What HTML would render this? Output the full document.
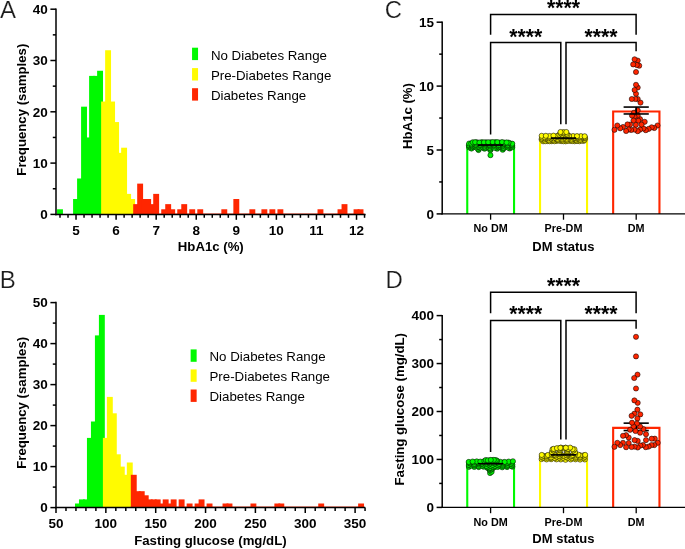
<!DOCTYPE html>
<html lang="en"><head><meta charset="utf-8"><title>Figure: HbA1c and fasting glucose distributions by diabetes status</title>
<style>
html,body{margin:0;padding:0;background:#fff;}
body{width:685px;height:549px;overflow:hidden;}
svg{display:block;font-family:"Liberation Sans", sans-serif;}
</style></head><body>
<svg width="685" height="549" viewBox="0 0 685 549">
<rect width="685" height="549" fill="#fff"/>
<text x="0" y="18" font-size="24" font-weight="normal" fill="#1c1c1c" stroke="#fff" stroke-width="0.2">A</text>
<g>
<rect x="57.05" y="209.27" width="5.9" height="5.13" fill="#00f900"/>
<rect x="73.08" y="199.01" width="5.9" height="15.39" fill="#00f900"/>
<rect x="77.09" y="178.49" width="5.9" height="35.91" fill="#00f900"/>
<rect x="81.09" y="106.67" width="5.9" height="107.73" fill="#00f900"/>
<rect x="85.1" y="137.45" width="5.9" height="76.95" fill="#00f900"/>
<rect x="89.11" y="75.89" width="5.9" height="138.51" fill="#00f900"/>
<rect x="93.11" y="75.89" width="5.9" height="138.51" fill="#00f900"/>
<rect x="97.12" y="70.76" width="5.9" height="143.64" fill="#00f900"/>
<rect x="101.13" y="101.54" width="5.9" height="112.86" fill="#fffb00"/>
<rect x="105.14" y="50.24" width="5.9" height="164.16" fill="#fffb00"/>
<rect x="109.14" y="101.54" width="5.9" height="112.86" fill="#fffb00"/>
<rect x="113.15" y="122.06" width="5.9" height="92.34" fill="#fffb00"/>
<rect x="117.16" y="152.84" width="5.9" height="61.56" fill="#fffb00"/>
<rect x="121.16" y="147.71" width="5.9" height="66.69" fill="#fffb00"/>
<rect x="125.17" y="193.88" width="5.9" height="20.52" fill="#fffb00"/>
<rect x="129.18" y="199.01" width="5.9" height="15.39" fill="#fffb00"/>
<rect x="133.19" y="204.14" width="5.9" height="10.26" fill="#ff2600"/>
<rect x="137.19" y="183.62" width="5.9" height="30.78" fill="#ff2600"/>
<rect x="141.2" y="199.01" width="5.9" height="15.39" fill="#ff2600"/>
<rect x="145.21" y="199.01" width="5.9" height="15.39" fill="#ff2600"/>
<rect x="149.21" y="204.14" width="5.9" height="10.26" fill="#ff2600"/>
<rect x="153.22" y="193.88" width="5.9" height="20.52" fill="#ff2600"/>
<rect x="161.23" y="209.27" width="5.9" height="5.13" fill="#ff2600"/>
<rect x="165.24" y="204.14" width="5.9" height="10.26" fill="#ff2600"/>
<rect x="169.25" y="209.27" width="5.9" height="5.13" fill="#ff2600"/>
<rect x="177.26" y="209.27" width="5.9" height="5.13" fill="#ff2600"/>
<rect x="181.27" y="204.14" width="5.9" height="10.26" fill="#ff2600"/>
<rect x="189.28" y="209.27" width="5.9" height="5.13" fill="#ff2600"/>
<rect x="197.3" y="209.27" width="5.9" height="5.13" fill="#ff2600"/>
<rect x="221.34" y="209.27" width="5.9" height="5.13" fill="#ff2600"/>
<rect x="233.36" y="199.01" width="5.9" height="15.39" fill="#ff2600"/>
<rect x="249.39" y="209.27" width="5.9" height="5.13" fill="#ff2600"/>
<rect x="261.41" y="209.27" width="5.9" height="5.13" fill="#ff2600"/>
<rect x="269.42" y="209.27" width="5.9" height="5.13" fill="#ff2600"/>
<rect x="277.44" y="209.27" width="5.9" height="5.13" fill="#ff2600"/>
<rect x="317.51" y="209.27" width="5.9" height="5.13" fill="#ff2600"/>
<rect x="337.54" y="209.27" width="5.9" height="5.13" fill="#ff2600"/>
<rect x="341.55" y="204.14" width="5.9" height="10.26" fill="#ff2600"/>
<rect x="353.57" y="209.27" width="5.9" height="5.13" fill="#ff2600"/>
<rect x="357.58" y="209.27" width="5.9" height="5.13" fill="#ff2600"/>
</g>
<rect x="133.19" y="213.25" width="231.42" height="0.6" fill="#ff2600" opacity="0.75"/>
<line x1="56" y1="8.45" x2="56" y2="215.15" stroke="#000" stroke-width="1.5"/>
<line x1="55.25" y1="214.4" x2="365.6" y2="214.4" stroke="#000" stroke-width="1.5"/>
<line x1="50.4" y1="214.4" x2="56" y2="214.4" stroke="#000" stroke-width="1.5"/>
<text x="47.8" y="219.15" font-size="13.5" text-anchor="end" font-weight="bold">0</text>
<line x1="50.4" y1="163.1" x2="56" y2="163.1" stroke="#000" stroke-width="1.5"/>
<text x="47.8" y="167.85" font-size="13.5" text-anchor="end" font-weight="bold">10</text>
<line x1="50.4" y1="111.8" x2="56" y2="111.8" stroke="#000" stroke-width="1.5"/>
<text x="47.8" y="116.55" font-size="13.5" text-anchor="end" font-weight="bold">20</text>
<line x1="50.4" y1="60.5" x2="56" y2="60.5" stroke="#000" stroke-width="1.5"/>
<text x="47.8" y="65.25" font-size="13.5" text-anchor="end" font-weight="bold">30</text>
<line x1="50.4" y1="9.2" x2="56" y2="9.2" stroke="#000" stroke-width="1.5"/>
<text x="47.8" y="13.95" font-size="13.5" text-anchor="end" font-weight="bold">40</text>
<line x1="52.8" y1="188.75" x2="56" y2="188.75" stroke="#000" stroke-width="1.5"/>
<line x1="52.8" y1="137.45" x2="56" y2="137.45" stroke="#000" stroke-width="1.5"/>
<line x1="52.8" y1="86.15" x2="56" y2="86.15" stroke="#000" stroke-width="1.5"/>
<line x1="52.8" y1="34.85" x2="56" y2="34.85" stroke="#000" stroke-width="1.5"/>
<line x1="76.03" y1="214.4" x2="76.03" y2="219.8" stroke="#000" stroke-width="1.5"/>
<text x="76.03" y="234.9" font-size="13.5" text-anchor="middle" font-weight="bold">5</text>
<line x1="116.1" y1="214.4" x2="116.1" y2="219.8" stroke="#000" stroke-width="1.5"/>
<text x="116.1" y="234.9" font-size="13.5" text-anchor="middle" font-weight="bold">6</text>
<line x1="156.17" y1="214.4" x2="156.17" y2="219.8" stroke="#000" stroke-width="1.5"/>
<text x="156.17" y="234.9" font-size="13.5" text-anchor="middle" font-weight="bold">7</text>
<line x1="196.24" y1="214.4" x2="196.24" y2="219.8" stroke="#000" stroke-width="1.5"/>
<text x="196.24" y="234.9" font-size="13.5" text-anchor="middle" font-weight="bold">8</text>
<line x1="236.31" y1="214.4" x2="236.31" y2="219.8" stroke="#000" stroke-width="1.5"/>
<text x="236.31" y="234.9" font-size="13.5" text-anchor="middle" font-weight="bold">9</text>
<line x1="276.38" y1="214.4" x2="276.38" y2="219.8" stroke="#000" stroke-width="1.5"/>
<text x="276.38" y="234.9" font-size="13.5" text-anchor="middle" font-weight="bold">10</text>
<line x1="316.45" y1="214.4" x2="316.45" y2="219.8" stroke="#000" stroke-width="1.5"/>
<text x="316.45" y="234.9" font-size="13.5" text-anchor="middle" font-weight="bold">11</text>
<line x1="356.52" y1="214.4" x2="356.52" y2="219.8" stroke="#000" stroke-width="1.5"/>
<text x="356.52" y="234.9" font-size="13.5" text-anchor="middle" font-weight="bold">12</text>
<line x1="60" y1="214.4" x2="60" y2="217.8" stroke="#000" stroke-width="1.5"/>
<line x1="68.02" y1="214.4" x2="68.02" y2="217.8" stroke="#000" stroke-width="1.5"/>
<line x1="84.04" y1="214.4" x2="84.04" y2="217.8" stroke="#000" stroke-width="1.5"/>
<line x1="92.06" y1="214.4" x2="92.06" y2="217.8" stroke="#000" stroke-width="1.5"/>
<line x1="100.07" y1="214.4" x2="100.07" y2="217.8" stroke="#000" stroke-width="1.5"/>
<line x1="108.09" y1="214.4" x2="108.09" y2="217.8" stroke="#000" stroke-width="1.5"/>
<line x1="124.11" y1="214.4" x2="124.11" y2="217.8" stroke="#000" stroke-width="1.5"/>
<line x1="132.13" y1="214.4" x2="132.13" y2="217.8" stroke="#000" stroke-width="1.5"/>
<line x1="140.14" y1="214.4" x2="140.14" y2="217.8" stroke="#000" stroke-width="1.5"/>
<line x1="148.16" y1="214.4" x2="148.16" y2="217.8" stroke="#000" stroke-width="1.5"/>
<line x1="164.18" y1="214.4" x2="164.18" y2="217.8" stroke="#000" stroke-width="1.5"/>
<line x1="172.2" y1="214.4" x2="172.2" y2="217.8" stroke="#000" stroke-width="1.5"/>
<line x1="180.21" y1="214.4" x2="180.21" y2="217.8" stroke="#000" stroke-width="1.5"/>
<line x1="188.23" y1="214.4" x2="188.23" y2="217.8" stroke="#000" stroke-width="1.5"/>
<line x1="204.25" y1="214.4" x2="204.25" y2="217.8" stroke="#000" stroke-width="1.5"/>
<line x1="212.27" y1="214.4" x2="212.27" y2="217.8" stroke="#000" stroke-width="1.5"/>
<line x1="220.28" y1="214.4" x2="220.28" y2="217.8" stroke="#000" stroke-width="1.5"/>
<line x1="228.3" y1="214.4" x2="228.3" y2="217.8" stroke="#000" stroke-width="1.5"/>
<line x1="244.32" y1="214.4" x2="244.32" y2="217.8" stroke="#000" stroke-width="1.5"/>
<line x1="252.34" y1="214.4" x2="252.34" y2="217.8" stroke="#000" stroke-width="1.5"/>
<line x1="260.35" y1="214.4" x2="260.35" y2="217.8" stroke="#000" stroke-width="1.5"/>
<line x1="268.37" y1="214.4" x2="268.37" y2="217.8" stroke="#000" stroke-width="1.5"/>
<line x1="284.39" y1="214.4" x2="284.39" y2="217.8" stroke="#000" stroke-width="1.5"/>
<line x1="292.41" y1="214.4" x2="292.41" y2="217.8" stroke="#000" stroke-width="1.5"/>
<line x1="300.42" y1="214.4" x2="300.42" y2="217.8" stroke="#000" stroke-width="1.5"/>
<line x1="308.44" y1="214.4" x2="308.44" y2="217.8" stroke="#000" stroke-width="1.5"/>
<line x1="324.46" y1="214.4" x2="324.46" y2="217.8" stroke="#000" stroke-width="1.5"/>
<line x1="332.48" y1="214.4" x2="332.48" y2="217.8" stroke="#000" stroke-width="1.5"/>
<line x1="340.49" y1="214.4" x2="340.49" y2="217.8" stroke="#000" stroke-width="1.5"/>
<line x1="348.51" y1="214.4" x2="348.51" y2="217.8" stroke="#000" stroke-width="1.5"/>
<line x1="364.53" y1="214.4" x2="364.53" y2="217.8" stroke="#000" stroke-width="1.5"/>
<text x="210.8" y="251.3" font-size="13.2" text-anchor="middle" font-weight="bold">HbA1c (%)</text>
<text transform="translate(26,109.7) rotate(-90)" font-size="13.2" text-anchor="middle" font-weight="bold">Frequency (samples)</text>
<rect x="192.05" y="47.7" width="6" height="12.4" fill="#00f900"/>
<text x="210.9" y="59.6" font-size="13.3" text-anchor="start" font-weight="normal">No Diabetes Range</text>
<rect x="192.05" y="68.1" width="6" height="12.4" fill="#fffb00"/>
<text x="210.9" y="80" font-size="13.3" text-anchor="start" font-weight="normal">Pre-Diabetes Range</text>
<rect x="192.05" y="88.2" width="6" height="12.4" fill="#ff2600"/>
<text x="210.9" y="100.1" font-size="13.3" text-anchor="start" font-weight="normal">Diabetes Range</text>
<text x="-0.15" y="288.1" font-size="24" font-weight="normal" fill="#1c1c1c" stroke="#fff" stroke-width="0.2">B</text>
<g>
<rect x="74.98" y="503.5" width="5.9" height="4.1" fill="#00f900"/>
<rect x="78.97" y="499.4" width="5.9" height="8.2" fill="#00f900"/>
<rect x="82.96" y="499.4" width="5.9" height="8.2" fill="#00f900"/>
<rect x="86.95" y="437.9" width="5.9" height="69.7" fill="#00f900"/>
<rect x="90.94" y="421.5" width="5.9" height="86.1" fill="#00f900"/>
<rect x="94.92" y="335.4" width="5.9" height="172.2" fill="#00f900"/>
<rect x="98.91" y="314.9" width="5.9" height="192.7" fill="#00f900"/>
<rect x="102.9" y="437.9" width="5.9" height="69.7" fill="#fffb00"/>
<rect x="106.89" y="396.9" width="5.9" height="110.7" fill="#fffb00"/>
<rect x="110.88" y="413.3" width="5.9" height="94.3" fill="#fffb00"/>
<rect x="114.86" y="454.3" width="5.9" height="53.3" fill="#fffb00"/>
<rect x="118.85" y="466.6" width="5.9" height="41" fill="#fffb00"/>
<rect x="122.84" y="474.8" width="5.9" height="32.8" fill="#fffb00"/>
<rect x="126.83" y="462.5" width="5.9" height="45.1" fill="#fffb00"/>
<rect x="130.82" y="474.8" width="5.9" height="32.8" fill="#ff2600"/>
<rect x="134.8" y="491.2" width="5.9" height="16.4" fill="#ff2600"/>
<rect x="138.79" y="491.2" width="5.9" height="16.4" fill="#ff2600"/>
<rect x="142.78" y="495.3" width="5.9" height="12.3" fill="#ff2600"/>
<rect x="146.77" y="499.4" width="5.9" height="8.2" fill="#ff2600"/>
<rect x="150.76" y="499.4" width="5.9" height="8.2" fill="#ff2600"/>
<rect x="154.74" y="499.4" width="5.9" height="8.2" fill="#ff2600"/>
<rect x="158.73" y="503.5" width="5.9" height="4.1" fill="#ff2600"/>
<rect x="162.72" y="499.4" width="5.9" height="8.2" fill="#ff2600"/>
<rect x="166.71" y="503.5" width="5.9" height="4.1" fill="#ff2600"/>
<rect x="170.7" y="499.4" width="5.9" height="8.2" fill="#ff2600"/>
<rect x="178.67" y="499.4" width="5.9" height="8.2" fill="#ff2600"/>
<rect x="186.65" y="503.5" width="5.9" height="4.1" fill="#ff2600"/>
<rect x="194.62" y="503.5" width="5.9" height="4.1" fill="#ff2600"/>
<rect x="198.61" y="499.4" width="5.9" height="8.2" fill="#ff2600"/>
<rect x="206.59" y="503.5" width="5.9" height="4.1" fill="#ff2600"/>
<rect x="222.54" y="503.5" width="5.9" height="4.1" fill="#ff2600"/>
<rect x="226.53" y="503.5" width="5.9" height="4.1" fill="#ff2600"/>
<rect x="250.46" y="503.5" width="5.9" height="4.1" fill="#ff2600"/>
<rect x="274.38" y="503.5" width="5.9" height="4.1" fill="#ff2600"/>
<rect x="278.37" y="503.5" width="5.9" height="4.1" fill="#ff2600"/>
<rect x="318.25" y="503.5" width="5.9" height="4.1" fill="#ff2600"/>
<rect x="358.13" y="503.5" width="5.9" height="4.1" fill="#ff2600"/>
</g>
<rect x="130.82" y="506.45" width="233.38" height="0.6" fill="#ff2600" opacity="0.75"/>
<line x1="56" y1="301.85" x2="56" y2="508.35" stroke="#000" stroke-width="1.5"/>
<line x1="55.25" y1="507.6" x2="365.2" y2="507.6" stroke="#000" stroke-width="1.5"/>
<line x1="50.4" y1="507.6" x2="56" y2="507.6" stroke="#000" stroke-width="1.5"/>
<text x="47.8" y="512.35" font-size="13.5" text-anchor="end" font-weight="bold">0</text>
<line x1="50.4" y1="466.6" x2="56" y2="466.6" stroke="#000" stroke-width="1.5"/>
<text x="47.8" y="471.35" font-size="13.5" text-anchor="end" font-weight="bold">10</text>
<line x1="50.4" y1="425.6" x2="56" y2="425.6" stroke="#000" stroke-width="1.5"/>
<text x="47.8" y="430.35" font-size="13.5" text-anchor="end" font-weight="bold">20</text>
<line x1="50.4" y1="384.6" x2="56" y2="384.6" stroke="#000" stroke-width="1.5"/>
<text x="47.8" y="389.35" font-size="13.5" text-anchor="end" font-weight="bold">30</text>
<line x1="50.4" y1="343.6" x2="56" y2="343.6" stroke="#000" stroke-width="1.5"/>
<text x="47.8" y="348.35" font-size="13.5" text-anchor="end" font-weight="bold">40</text>
<line x1="50.4" y1="302.6" x2="56" y2="302.6" stroke="#000" stroke-width="1.5"/>
<text x="47.8" y="307.35" font-size="13.5" text-anchor="end" font-weight="bold">50</text>
<line x1="52.8" y1="487.1" x2="56" y2="487.1" stroke="#000" stroke-width="1.5"/>
<line x1="52.8" y1="446.1" x2="56" y2="446.1" stroke="#000" stroke-width="1.5"/>
<line x1="52.8" y1="405.1" x2="56" y2="405.1" stroke="#000" stroke-width="1.5"/>
<line x1="52.8" y1="364.1" x2="56" y2="364.1" stroke="#000" stroke-width="1.5"/>
<line x1="52.8" y1="323.1" x2="56" y2="323.1" stroke="#000" stroke-width="1.5"/>
<line x1="56" y1="507.6" x2="56" y2="513" stroke="#000" stroke-width="1.5"/>
<text x="56" y="527.6" font-size="13.5" text-anchor="middle" font-weight="bold">50</text>
<line x1="105.85" y1="507.6" x2="105.85" y2="513" stroke="#000" stroke-width="1.5"/>
<text x="105.85" y="527.6" font-size="13.5" text-anchor="middle" font-weight="bold">100</text>
<line x1="155.7" y1="507.6" x2="155.7" y2="513" stroke="#000" stroke-width="1.5"/>
<text x="155.7" y="527.6" font-size="13.5" text-anchor="middle" font-weight="bold">150</text>
<line x1="205.55" y1="507.6" x2="205.55" y2="513" stroke="#000" stroke-width="1.5"/>
<text x="205.55" y="527.6" font-size="13.5" text-anchor="middle" font-weight="bold">200</text>
<line x1="255.4" y1="507.6" x2="255.4" y2="513" stroke="#000" stroke-width="1.5"/>
<text x="255.4" y="527.6" font-size="13.5" text-anchor="middle" font-weight="bold">250</text>
<line x1="305.25" y1="507.6" x2="305.25" y2="513" stroke="#000" stroke-width="1.5"/>
<text x="305.25" y="527.6" font-size="13.5" text-anchor="middle" font-weight="bold">300</text>
<line x1="355.1" y1="507.6" x2="355.1" y2="513" stroke="#000" stroke-width="1.5"/>
<text x="355.1" y="527.6" font-size="13.5" text-anchor="middle" font-weight="bold">350</text>
<line x1="65.97" y1="507.6" x2="65.97" y2="511" stroke="#000" stroke-width="1.5"/>
<line x1="75.94" y1="507.6" x2="75.94" y2="511" stroke="#000" stroke-width="1.5"/>
<line x1="85.91" y1="507.6" x2="85.91" y2="511" stroke="#000" stroke-width="1.5"/>
<line x1="95.88" y1="507.6" x2="95.88" y2="511" stroke="#000" stroke-width="1.5"/>
<line x1="115.82" y1="507.6" x2="115.82" y2="511" stroke="#000" stroke-width="1.5"/>
<line x1="125.79" y1="507.6" x2="125.79" y2="511" stroke="#000" stroke-width="1.5"/>
<line x1="135.76" y1="507.6" x2="135.76" y2="511" stroke="#000" stroke-width="1.5"/>
<line x1="145.73" y1="507.6" x2="145.73" y2="511" stroke="#000" stroke-width="1.5"/>
<line x1="165.67" y1="507.6" x2="165.67" y2="511" stroke="#000" stroke-width="1.5"/>
<line x1="175.64" y1="507.6" x2="175.64" y2="511" stroke="#000" stroke-width="1.5"/>
<line x1="185.61" y1="507.6" x2="185.61" y2="511" stroke="#000" stroke-width="1.5"/>
<line x1="195.58" y1="507.6" x2="195.58" y2="511" stroke="#000" stroke-width="1.5"/>
<line x1="215.52" y1="507.6" x2="215.52" y2="511" stroke="#000" stroke-width="1.5"/>
<line x1="225.49" y1="507.6" x2="225.49" y2="511" stroke="#000" stroke-width="1.5"/>
<line x1="235.46" y1="507.6" x2="235.46" y2="511" stroke="#000" stroke-width="1.5"/>
<line x1="245.43" y1="507.6" x2="245.43" y2="511" stroke="#000" stroke-width="1.5"/>
<line x1="265.37" y1="507.6" x2="265.37" y2="511" stroke="#000" stroke-width="1.5"/>
<line x1="275.34" y1="507.6" x2="275.34" y2="511" stroke="#000" stroke-width="1.5"/>
<line x1="285.31" y1="507.6" x2="285.31" y2="511" stroke="#000" stroke-width="1.5"/>
<line x1="295.28" y1="507.6" x2="295.28" y2="511" stroke="#000" stroke-width="1.5"/>
<line x1="315.22" y1="507.6" x2="315.22" y2="511" stroke="#000" stroke-width="1.5"/>
<line x1="325.19" y1="507.6" x2="325.19" y2="511" stroke="#000" stroke-width="1.5"/>
<line x1="335.16" y1="507.6" x2="335.16" y2="511" stroke="#000" stroke-width="1.5"/>
<line x1="345.13" y1="507.6" x2="345.13" y2="511" stroke="#000" stroke-width="1.5"/>
<line x1="365.07" y1="507.6" x2="365.07" y2="511" stroke="#000" stroke-width="1.5"/>
<text x="210.4" y="545.4" font-size="13.2" text-anchor="middle" font-weight="bold">Fasting glucose (mg/dL)</text>
<text transform="translate(26,402.8) rotate(-90)" font-size="13.2" text-anchor="middle" font-weight="bold">Frequency (samples)</text>
<rect x="190.65" y="349.4" width="6" height="12.4" fill="#00f900"/>
<text x="209.5" y="361.3" font-size="13.3" text-anchor="start" font-weight="normal">No Diabetes Range</text>
<rect x="190.65" y="369.4" width="6" height="12.4" fill="#fffb00"/>
<text x="209.5" y="381.3" font-size="13.3" text-anchor="start" font-weight="normal">Pre-Diabetes Range</text>
<rect x="190.65" y="389.5" width="6" height="12.4" fill="#ff2600"/>
<text x="209.5" y="401.4" font-size="13.3" text-anchor="start" font-weight="normal">Diabetes Range</text>
<text x="384.75" y="18.1" font-size="24" font-weight="normal" fill="#1c1c1c" stroke="#fff" stroke-width="0.2">C</text>
<path d="M467.25 213.9V146.09H514.05V213.9" fill="none" stroke="#00f900" stroke-width="2.1"/>
<path d="M540.05 213.9V139.18H587.05V213.9" fill="none" stroke="#fffb00" stroke-width="2.1"/>
<path d="M613.15 213.9V111.56H659.45V213.9" fill="none" stroke="#ff2600" stroke-width="2.1"/>
<line x1="442.2" y1="21.5" x2="442.2" y2="214.6" stroke="#000" stroke-width="1.5"/>
<line x1="441.5" y1="213.9" x2="685" y2="213.9" stroke="#000" stroke-width="1.4"/>
<line x1="436.6" y1="213.9" x2="442.2" y2="213.9" stroke="#000" stroke-width="1.5"/>
<text x="434" y="218.65" font-size="13.5" text-anchor="end" font-weight="bold">0</text>
<line x1="436.6" y1="150" x2="442.2" y2="150" stroke="#000" stroke-width="1.5"/>
<text x="434" y="154.75" font-size="13.5" text-anchor="end" font-weight="bold">5</text>
<line x1="436.6" y1="86.1" x2="442.2" y2="86.1" stroke="#000" stroke-width="1.5"/>
<text x="434" y="90.85" font-size="13.5" text-anchor="end" font-weight="bold">10</text>
<line x1="436.6" y1="22.2" x2="442.2" y2="22.2" stroke="#000" stroke-width="1.5"/>
<text x="434" y="26.95" font-size="13.5" text-anchor="end" font-weight="bold">15</text>
<line x1="439.2" y1="181.95" x2="442.2" y2="181.95" stroke="#000" stroke-width="1.5"/>
<line x1="439.2" y1="118.05" x2="442.2" y2="118.05" stroke="#000" stroke-width="1.5"/>
<line x1="439.2" y1="54.15" x2="442.2" y2="54.15" stroke="#000" stroke-width="1.5"/>
<line x1="490.6" y1="213.9" x2="490.6" y2="219.7" stroke="#000" stroke-width="1.3"/>
<text x="490.6" y="231.8" font-size="10.8" text-anchor="middle" font-weight="bold">No DM</text>
<line x1="563.5" y1="213.9" x2="563.5" y2="219.7" stroke="#000" stroke-width="1.3"/>
<text x="563.5" y="231.8" font-size="10.8" text-anchor="middle" font-weight="bold">Pre-DM</text>
<line x1="636.2" y1="213.9" x2="636.2" y2="219.7" stroke="#000" stroke-width="1.3"/>
<text x="636.2" y="231.8" font-size="10.8" text-anchor="middle" font-weight="bold">DM</text>
<text x="563.4" y="250.9" font-size="13" text-anchor="middle" font-weight="bold">DM status</text>
<text transform="translate(411.9,116) rotate(-90)" font-size="13.2" text-anchor="middle" font-weight="bold">HbA1c (%)</text>
<g fill="#00f900" stroke="#000" stroke-width="0.55">
<circle cx="490.44" cy="155.14" r="2.58"/>
<circle cx="478.52" cy="150.06" r="2.58"/>
<circle cx="502.68" cy="149.74" r="2.58"/>
<circle cx="490.31" cy="150.2" r="2.58"/>
<circle cx="471.46" cy="148.56" r="2.58"/>
<circle cx="484.56" cy="148.7" r="2.58"/>
<circle cx="497.14" cy="148.71" r="2.58"/>
<circle cx="509.68" cy="148.51" r="2.58"/>
<circle cx="478.01" cy="148.94" r="2.58"/>
<circle cx="490.61" cy="148.87" r="2.58"/>
<circle cx="503.37" cy="148.46" r="2.58"/>
<circle cx="469.25" cy="147.5" r="2.58"/>
<circle cx="473.51" cy="147.16" r="2.58"/>
<circle cx="478.37" cy="147.43" r="2.58"/>
<circle cx="482.81" cy="147.67" r="2.58"/>
<circle cx="487.33" cy="147.7" r="2.58"/>
<circle cx="491.67" cy="147.62" r="2.58"/>
<circle cx="496.22" cy="147.71" r="2.58"/>
<circle cx="501.01" cy="147.2" r="2.58"/>
<circle cx="505.09" cy="147.27" r="2.58"/>
<circle cx="510.12" cy="147.41" r="2.58"/>
<circle cx="471.44" cy="147.32" r="2.58"/>
<circle cx="475.89" cy="147.38" r="2.58"/>
<circle cx="480.33" cy="147.5" r="2.58"/>
<circle cx="484.99" cy="147.69" r="2.58"/>
<circle cx="489.58" cy="147.7" r="2.58"/>
<circle cx="494.21" cy="147.74" r="2.58"/>
<circle cx="498.62" cy="147.24" r="2.58"/>
<circle cx="503.26" cy="147.72" r="2.58"/>
<circle cx="507.82" cy="147.49" r="2.58"/>
<circle cx="512.23" cy="147.27" r="2.58"/>
<circle cx="469.3" cy="146.21" r="2.58"/>
<circle cx="475.11" cy="145.9" r="2.58"/>
<circle cx="481.6" cy="146.46" r="2.58"/>
<circle cx="487.28" cy="146.35" r="2.58"/>
<circle cx="493.62" cy="145.96" r="2.58"/>
<circle cx="499.69" cy="146.33" r="2.58"/>
<circle cx="506.18" cy="145.89" r="2.58"/>
<circle cx="512.17" cy="145.89" r="2.58"/>
<circle cx="472.3" cy="146.06" r="2.58"/>
<circle cx="478.54" cy="146.45" r="2.58"/>
<circle cx="484.46" cy="146.47" r="2.58"/>
<circle cx="490.49" cy="145.91" r="2.58"/>
<circle cx="496.8" cy="145.88" r="2.58"/>
<circle cx="502.7" cy="146.11" r="2.58"/>
<circle cx="509.09" cy="145.96" r="2.58"/>
<circle cx="468.83" cy="145.11" r="2.58"/>
<circle cx="473.51" cy="145.16" r="2.58"/>
<circle cx="478.39" cy="144.81" r="2.58"/>
<circle cx="482.66" cy="144.9" r="2.58"/>
<circle cx="487.29" cy="144.95" r="2.58"/>
<circle cx="491.77" cy="144.96" r="2.58"/>
<circle cx="496.52" cy="144.89" r="2.58"/>
<circle cx="500.74" cy="145.02" r="2.58"/>
<circle cx="505.15" cy="144.77" r="2.58"/>
<circle cx="510.12" cy="144.9" r="2.58"/>
<circle cx="471.39" cy="144.59" r="2.58"/>
<circle cx="475.84" cy="144.94" r="2.58"/>
<circle cx="480.13" cy="144.96" r="2.58"/>
<circle cx="485.02" cy="144.62" r="2.58"/>
<circle cx="489.54" cy="144.87" r="2.58"/>
<circle cx="494.1" cy="144.8" r="2.58"/>
<circle cx="498.65" cy="145.03" r="2.58"/>
<circle cx="502.76" cy="144.62" r="2.58"/>
<circle cx="507.68" cy="145.17" r="2.58"/>
<circle cx="511.95" cy="144.86" r="2.58"/>
<circle cx="469.16" cy="143.5" r="2.58"/>
<circle cx="473.54" cy="143.5" r="2.58"/>
<circle cx="478.07" cy="143.67" r="2.58"/>
<circle cx="482.56" cy="143.54" r="2.58"/>
<circle cx="487.37" cy="143.33" r="2.58"/>
<circle cx="491.77" cy="143.75" r="2.58"/>
<circle cx="496.14" cy="143.44" r="2.58"/>
<circle cx="500.97" cy="143.45" r="2.58"/>
<circle cx="505.12" cy="143.57" r="2.58"/>
<circle cx="509.96" cy="143.37" r="2.58"/>
<circle cx="471.26" cy="143.51" r="2.58"/>
<circle cx="476.09" cy="143.57" r="2.58"/>
<circle cx="480.63" cy="143.41" r="2.58"/>
<circle cx="484.84" cy="143.7" r="2.58"/>
<circle cx="489.7" cy="143.58" r="2.58"/>
<circle cx="493.83" cy="143.38" r="2.58"/>
<circle cx="498.54" cy="143.42" r="2.58"/>
<circle cx="503.23" cy="143.81" r="2.58"/>
<circle cx="507.38" cy="143.48" r="2.58"/>
<circle cx="512.28" cy="143.7" r="2.58"/>
<circle cx="472.78" cy="142.24" r="2.58"/>
<circle cx="476.88" cy="142.21" r="2.58"/>
<circle cx="481.78" cy="142.19" r="2.58"/>
<circle cx="486.01" cy="142.28" r="2.58"/>
<circle cx="490.55" cy="142.28" r="2.58"/>
<circle cx="495.35" cy="142.13" r="2.58"/>
<circle cx="499.3" cy="142.6" r="2.58"/>
<circle cx="504.33" cy="142.62" r="2.58"/>
<circle cx="508.56" cy="142.6" r="2.58"/>
<circle cx="475.11" cy="142.17" r="2.58"/>
<circle cx="479.5" cy="142.53" r="2.58"/>
<circle cx="483.95" cy="142.34" r="2.58"/>
<circle cx="488.22" cy="142.24" r="2.58"/>
<circle cx="492.69" cy="142.07" r="2.58"/>
<circle cx="497.4" cy="142.2" r="2.58"/>
<circle cx="502.04" cy="142.06" r="2.58"/>
<circle cx="506.59" cy="142.45" r="2.58"/>
</g>
<line x1="478" y1="144.79" x2="503.2" y2="144.79" stroke="#000" stroke-width="1.1"/>
<line x1="478" y1="145.3" x2="503.2" y2="145.3" stroke="#000" stroke-width="1.1"/>
<line x1="490.6" y1="144.79" x2="490.6" y2="145.3" stroke="#000" stroke-width="1.1"/>
<g fill="#fffb00" stroke="#000" stroke-width="0.55">
<circle cx="543.15" cy="141.29" r="2.58"/>
<circle cx="547.7" cy="141.1" r="2.58"/>
<circle cx="551.72" cy="141.2" r="2.58"/>
<circle cx="556.37" cy="140.93" r="2.58"/>
<circle cx="561.22" cy="141.07" r="2.58"/>
<circle cx="565.63" cy="141.32" r="2.58"/>
<circle cx="570.3" cy="140.96" r="2.58"/>
<circle cx="574.64" cy="141.27" r="2.58"/>
<circle cx="579.33" cy="141.22" r="2.58"/>
<circle cx="583.81" cy="140.87" r="2.58"/>
<circle cx="545.2" cy="141.24" r="2.58"/>
<circle cx="549.54" cy="141.23" r="2.58"/>
<circle cx="554.54" cy="141.24" r="2.58"/>
<circle cx="559.04" cy="140.76" r="2.58"/>
<circle cx="563.48" cy="141.27" r="2.58"/>
<circle cx="567.69" cy="140.92" r="2.58"/>
<circle cx="572.37" cy="141.07" r="2.58"/>
<circle cx="577.02" cy="141.04" r="2.58"/>
<circle cx="581.79" cy="140.76" r="2.58"/>
<circle cx="541.63" cy="139.55" r="2.58"/>
<circle cx="546.2" cy="139.52" r="2.58"/>
<circle cx="551.24" cy="139.99" r="2.58"/>
<circle cx="555.23" cy="139.78" r="2.58"/>
<circle cx="559.89" cy="139.66" r="2.58"/>
<circle cx="564.44" cy="139.86" r="2.58"/>
<circle cx="569.11" cy="139.69" r="2.58"/>
<circle cx="573.4" cy="139.67" r="2.58"/>
<circle cx="577.88" cy="139.81" r="2.58"/>
<circle cx="582.77" cy="139.7" r="2.58"/>
<circle cx="543.91" cy="139.58" r="2.58"/>
<circle cx="548.61" cy="139.84" r="2.58"/>
<circle cx="553.39" cy="139.7" r="2.58"/>
<circle cx="557.92" cy="139.85" r="2.58"/>
<circle cx="562.23" cy="139.7" r="2.58"/>
<circle cx="566.79" cy="139.9" r="2.58"/>
<circle cx="571.27" cy="139.89" r="2.58"/>
<circle cx="575.82" cy="139.62" r="2.58"/>
<circle cx="580.4" cy="139.89" r="2.58"/>
<circle cx="584.64" cy="139.73" r="2.58"/>
<circle cx="541.86" cy="138.73" r="2.58"/>
<circle cx="546.69" cy="138.42" r="2.58"/>
<circle cx="551.19" cy="138.67" r="2.58"/>
<circle cx="555.34" cy="138.48" r="2.58"/>
<circle cx="559.78" cy="138.69" r="2.58"/>
<circle cx="564.63" cy="138.73" r="2.58"/>
<circle cx="569.23" cy="138.6" r="2.58"/>
<circle cx="573.72" cy="138.54" r="2.58"/>
<circle cx="577.87" cy="138.55" r="2.58"/>
<circle cx="582.34" cy="138.28" r="2.58"/>
<circle cx="544.33" cy="138.22" r="2.58"/>
<circle cx="548.44" cy="138.26" r="2.58"/>
<circle cx="553.44" cy="138.31" r="2.58"/>
<circle cx="557.46" cy="138.7" r="2.58"/>
<circle cx="562.04" cy="138.7" r="2.58"/>
<circle cx="566.9" cy="138.7" r="2.58"/>
<circle cx="571.59" cy="138.55" r="2.58"/>
<circle cx="576.03" cy="138.22" r="2.58"/>
<circle cx="580.53" cy="138.5" r="2.58"/>
<circle cx="585.03" cy="138.26" r="2.58"/>
<circle cx="542.05" cy="137.48" r="2.58"/>
<circle cx="546.7" cy="137.11" r="2.58"/>
<circle cx="552.06" cy="137.42" r="2.58"/>
<circle cx="556.92" cy="137.03" r="2.58"/>
<circle cx="561.99" cy="137.29" r="2.58"/>
<circle cx="567.35" cy="137.16" r="2.58"/>
<circle cx="572.17" cy="137.16" r="2.58"/>
<circle cx="577.22" cy="137.17" r="2.58"/>
<circle cx="582.12" cy="137.22" r="2.58"/>
<circle cx="544.71" cy="137.17" r="2.58"/>
<circle cx="549.64" cy="137.02" r="2.58"/>
<circle cx="554.66" cy="137.37" r="2.58"/>
<circle cx="559.71" cy="137.23" r="2.58"/>
<circle cx="564.65" cy="137.31" r="2.58"/>
<circle cx="569.96" cy="137.01" r="2.58"/>
<circle cx="574.54" cy="137.37" r="2.58"/>
<circle cx="580.09" cy="137.23" r="2.58"/>
<circle cx="584.87" cy="137.35" r="2.58"/>
<circle cx="541.71" cy="135.8" r="2.58"/>
<circle cx="549.54" cy="135.99" r="2.58"/>
<circle cx="557.43" cy="135.78" r="2.58"/>
<circle cx="565.47" cy="136.21" r="2.58"/>
<circle cx="573.05" cy="136.07" r="2.58"/>
<circle cx="580.94" cy="136.15" r="2.58"/>
<circle cx="545.86" cy="135.8" r="2.58"/>
<circle cx="553.46" cy="135.66" r="2.58"/>
<circle cx="561.43" cy="135.87" r="2.58"/>
<circle cx="569.07" cy="135.86" r="2.58"/>
<circle cx="576.98" cy="136.11" r="2.58"/>
<circle cx="584.69" cy="136.24" r="2.58"/>
<circle cx="559.39" cy="134.72" r="2.58"/>
<circle cx="564.71" cy="134.86" r="2.58"/>
<circle cx="562.26" cy="134.7" r="2.58"/>
<circle cx="567.39" cy="134.8" r="2.58"/>
<circle cx="560.61" cy="133.33" r="2.58"/>
<circle cx="566.54" cy="133.66" r="2.58"/>
<circle cx="563.38" cy="133.22" r="2.58"/>
<circle cx="563.4" cy="132.11" r="2.58"/>
<circle cx="560.5" cy="132.01" r="2.58"/>
<circle cx="566.3" cy="132.01" r="2.58"/>
</g>
<line x1="550.9" y1="137.87" x2="576.1" y2="137.87" stroke="#000" stroke-width="1.1"/>
<line x1="550.9" y1="138.38" x2="576.1" y2="138.38" stroke="#000" stroke-width="1.1"/>
<line x1="563.5" y1="137.87" x2="563.5" y2="138.38" stroke="#000" stroke-width="1.1"/>
<g fill="#ff2600" stroke="#000" stroke-width="0.55">
<circle cx="657.5" cy="125.5" r="2.58"/>
<circle cx="654.3" cy="128" r="2.58"/>
<circle cx="651.7" cy="127.3" r="2.58"/>
<circle cx="648.6" cy="128.9" r="2.58"/>
<circle cx="645.8" cy="130.2" r="2.58"/>
<circle cx="644.7" cy="121.8" r="2.58"/>
<circle cx="643.4" cy="128.4" r="2.58"/>
<circle cx="641.5" cy="124.6" r="2.58"/>
<circle cx="640.5" cy="102.6" r="2.58"/>
<circle cx="640.1" cy="119.2" r="2.58"/>
<circle cx="640.1" cy="129.6" r="2.58"/>
<circle cx="639.2" cy="65.7" r="2.58"/>
<circle cx="638.2" cy="120.7" r="2.58"/>
<circle cx="637.7" cy="60.6" r="2.58"/>
<circle cx="637.7" cy="87.5" r="2.58"/>
<circle cx="637.7" cy="99" r="2.58"/>
<circle cx="637.7" cy="110.3" r="2.58"/>
<circle cx="637.7" cy="115.4" r="2.58"/>
<circle cx="637.7" cy="131.2" r="2.58"/>
<circle cx="636.8" cy="65" r="2.58"/>
<circle cx="636" cy="72" r="2.58"/>
<circle cx="636" cy="84.8" r="2.58"/>
<circle cx="636" cy="93.8" r="2.58"/>
<circle cx="635.8" cy="124.9" r="2.58"/>
<circle cx="635.4" cy="99" r="2.58"/>
<circle cx="634.6" cy="59.3" r="2.58"/>
<circle cx="634.6" cy="90" r="2.58"/>
<circle cx="634.5" cy="116.7" r="2.58"/>
<circle cx="634.4" cy="129.6" r="2.58"/>
<circle cx="633.9" cy="112.8" r="2.58"/>
<circle cx="633.5" cy="120.5" r="2.58"/>
<circle cx="633.2" cy="64.4" r="2.58"/>
<circle cx="632" cy="115.6" r="2.58"/>
<circle cx="631.8" cy="99" r="2.58"/>
<circle cx="631.1" cy="130" r="2.58"/>
<circle cx="630.1" cy="124.6" r="2.58"/>
<circle cx="628.6" cy="129.4" r="2.58"/>
<circle cx="627.5" cy="124.4" r="2.58"/>
<circle cx="626.1" cy="131" r="2.58"/>
<circle cx="623" cy="127" r="2.58"/>
<circle cx="620.2" cy="128.3" r="2.58"/>
<circle cx="617.3" cy="125.5" r="2.58"/>
<circle cx="614.5" cy="129.8" r="2.58"/>
</g>
<line x1="623.6" y1="107.06" x2="648.8" y2="107.06" stroke="#000" stroke-width="1.6"/>
<line x1="623.6" y1="113.96" x2="648.8" y2="113.96" stroke="#000" stroke-width="1.6"/>
<line x1="636.2" y1="107.06" x2="636.2" y2="113.96" stroke="#000" stroke-width="1.6"/>
<path d="M490.6 34.7V14.4H636.1V34.7" fill="none" stroke="#000" stroke-width="1.5"/>
<path d="M490.6 134.6V42.6H560.8V124.3" fill="none" stroke="#000" stroke-width="1.5"/>
<path d="M566.0 124.3V42.6H636.1V51.2" fill="none" stroke="#000" stroke-width="1.5"/>
<text x="563.5" y="15.3" font-size="21.2" text-anchor="middle" font-weight="bold">****</text>
<text x="525.8" y="43.6" font-size="21.2" text-anchor="middle" font-weight="bold">****</text>
<text x="601.1" y="43.6" font-size="21.2" text-anchor="middle" font-weight="bold">****</text>
<text x="385.5" y="288" font-size="24" font-weight="normal" fill="#1c1c1c" stroke="#fff" stroke-width="0.2">D</text>
<path d="M467.25 507.4V464.72H514.05V507.4" fill="none" stroke="#00f900" stroke-width="2.1"/>
<path d="M540.05 507.4V455.94H587.05V507.4" fill="none" stroke="#fffb00" stroke-width="2.1"/>
<path d="M613.15 507.4V427.89H659.45V507.4" fill="none" stroke="#ff2600" stroke-width="2.1"/>
<line x1="442.2" y1="314.9" x2="442.2" y2="508.1" stroke="#000" stroke-width="1.5"/>
<line x1="441.5" y1="507.4" x2="685" y2="507.4" stroke="#000" stroke-width="1.4"/>
<line x1="436.6" y1="507.4" x2="442.2" y2="507.4" stroke="#000" stroke-width="1.5"/>
<text x="434" y="512.15" font-size="13.5" text-anchor="end" font-weight="bold">0</text>
<line x1="436.6" y1="459.45" x2="442.2" y2="459.45" stroke="#000" stroke-width="1.5"/>
<text x="434" y="464.2" font-size="13.5" text-anchor="end" font-weight="bold">100</text>
<line x1="436.6" y1="411.5" x2="442.2" y2="411.5" stroke="#000" stroke-width="1.5"/>
<text x="434" y="416.25" font-size="13.5" text-anchor="end" font-weight="bold">200</text>
<line x1="436.6" y1="363.55" x2="442.2" y2="363.55" stroke="#000" stroke-width="1.5"/>
<text x="434" y="368.3" font-size="13.5" text-anchor="end" font-weight="bold">300</text>
<line x1="436.6" y1="315.6" x2="442.2" y2="315.6" stroke="#000" stroke-width="1.5"/>
<text x="434" y="320.35" font-size="13.5" text-anchor="end" font-weight="bold">400</text>
<line x1="439.2" y1="483.42" x2="442.2" y2="483.42" stroke="#000" stroke-width="1.5"/>
<line x1="439.2" y1="435.47" x2="442.2" y2="435.47" stroke="#000" stroke-width="1.5"/>
<line x1="439.2" y1="387.52" x2="442.2" y2="387.52" stroke="#000" stroke-width="1.5"/>
<line x1="439.2" y1="339.57" x2="442.2" y2="339.57" stroke="#000" stroke-width="1.5"/>
<line x1="490.6" y1="507.4" x2="490.6" y2="513.2" stroke="#000" stroke-width="1.3"/>
<text x="490.6" y="525.5" font-size="10.8" text-anchor="middle" font-weight="bold">No DM</text>
<line x1="563.5" y1="507.4" x2="563.5" y2="513.2" stroke="#000" stroke-width="1.3"/>
<text x="563.5" y="525.5" font-size="10.8" text-anchor="middle" font-weight="bold">Pre-DM</text>
<line x1="636.2" y1="507.4" x2="636.2" y2="513.2" stroke="#000" stroke-width="1.3"/>
<text x="636.2" y="525.5" font-size="10.8" text-anchor="middle" font-weight="bold">DM</text>
<text x="563.4" y="543.3" font-size="13" text-anchor="middle" font-weight="bold">DM status</text>
<text transform="translate(404.4,409.3) rotate(-90)" font-size="13.2" text-anchor="middle" font-weight="bold">Fasting glucose (mg/dL)</text>
<g fill="#00f900" stroke="#000" stroke-width="0.55">
<circle cx="490.09" cy="473.05" r="2.58"/>
<circle cx="491.64" cy="471.8" r="2.58"/>
<circle cx="489.78" cy="470.27" r="2.58"/>
<circle cx="491.65" cy="469.33" r="2.58"/>
<circle cx="488.95" cy="468.72" r="2.58"/>
<circle cx="488.89" cy="468.4" r="2.58"/>
<circle cx="492.4" cy="468.37" r="2.58"/>
<circle cx="486.95" cy="467.54" r="2.58"/>
<circle cx="494.28" cy="467.27" r="2.58"/>
<circle cx="490.27" cy="467.87" r="2.58"/>
<circle cx="468.93" cy="466.86" r="2.58"/>
<circle cx="478.72" cy="467.12" r="2.58"/>
<circle cx="487.82" cy="466.85" r="2.58"/>
<circle cx="497.72" cy="466.97" r="2.58"/>
<circle cx="507.09" cy="467.05" r="2.58"/>
<circle cx="474.24" cy="466.89" r="2.58"/>
<circle cx="483.47" cy="466.67" r="2.58"/>
<circle cx="492.81" cy="467.11" r="2.58"/>
<circle cx="502.23" cy="467.29" r="2.58"/>
<circle cx="512.43" cy="466.66" r="2.58"/>
<circle cx="470.45" cy="465.77" r="2.58"/>
<circle cx="478.52" cy="466.08" r="2.58"/>
<circle cx="486.34" cy="466.02" r="2.58"/>
<circle cx="494.82" cy="466.12" r="2.58"/>
<circle cx="502.71" cy="466.08" r="2.58"/>
<circle cx="511.47" cy="466.01" r="2.58"/>
<circle cx="474.23" cy="465.57" r="2.58"/>
<circle cx="482.4" cy="465.76" r="2.58"/>
<circle cx="490.77" cy="466.02" r="2.58"/>
<circle cx="498.85" cy="465.62" r="2.58"/>
<circle cx="507.12" cy="465.98" r="2.58"/>
<circle cx="468.84" cy="465.08" r="2.58"/>
<circle cx="478.78" cy="464.47" r="2.58"/>
<circle cx="488.56" cy="464.49" r="2.58"/>
<circle cx="497.63" cy="464.95" r="2.58"/>
<circle cx="507.4" cy="464.82" r="2.58"/>
<circle cx="474" cy="464.74" r="2.58"/>
<circle cx="483.28" cy="464.51" r="2.58"/>
<circle cx="492.64" cy="464.95" r="2.58"/>
<circle cx="502.75" cy="464.81" r="2.58"/>
<circle cx="512.29" cy="464.66" r="2.58"/>
<circle cx="469.91" cy="463.58" r="2.58"/>
<circle cx="478.6" cy="463.3" r="2.58"/>
<circle cx="486.5" cy="463.47" r="2.58"/>
<circle cx="494.92" cy="463.55" r="2.58"/>
<circle cx="502.77" cy="463.59" r="2.58"/>
<circle cx="511.13" cy="463.89" r="2.58"/>
<circle cx="474.08" cy="463.95" r="2.58"/>
<circle cx="482.09" cy="463.49" r="2.58"/>
<circle cx="490.28" cy="463.36" r="2.58"/>
<circle cx="499.02" cy="463.85" r="2.58"/>
<circle cx="506.75" cy="463.42" r="2.58"/>
<circle cx="469.03" cy="462.76" r="2.58"/>
<circle cx="478.91" cy="462.77" r="2.58"/>
<circle cx="488.28" cy="462.28" r="2.58"/>
<circle cx="497.69" cy="462.32" r="2.58"/>
<circle cx="507.34" cy="462.62" r="2.58"/>
<circle cx="473.64" cy="462.37" r="2.58"/>
<circle cx="483.66" cy="462.19" r="2.58"/>
<circle cx="493.23" cy="462.88" r="2.58"/>
<circle cx="502.9" cy="462.47" r="2.58"/>
<circle cx="512.14" cy="462.63" r="2.58"/>
<circle cx="468.71" cy="461.94" r="2.58"/>
<circle cx="476.75" cy="461.4" r="2.58"/>
<circle cx="484.89" cy="461.55" r="2.58"/>
<circle cx="492.68" cy="461.74" r="2.58"/>
<circle cx="500.2" cy="461.78" r="2.58"/>
<circle cx="508.73" cy="461.55" r="2.58"/>
<circle cx="472.62" cy="461.53" r="2.58"/>
<circle cx="480.35" cy="461.58" r="2.58"/>
<circle cx="488.23" cy="461.56" r="2.58"/>
<circle cx="496.72" cy="461.52" r="2.58"/>
<circle cx="504.65" cy="461.93" r="2.58"/>
<circle cx="512.91" cy="461.27" r="2.58"/>
<circle cx="484.33" cy="460.99" r="2.58"/>
<circle cx="490.24" cy="460.78" r="2.58"/>
<circle cx="496.89" cy="460.55" r="2.58"/>
<circle cx="487.38" cy="461.23" r="2.58"/>
<circle cx="493.71" cy="461.18" r="2.58"/>
<circle cx="485.76" cy="460.02" r="2.58"/>
<circle cx="492.55" cy="460.39" r="2.58"/>
<circle cx="489.27" cy="460.49" r="2.58"/>
<circle cx="495.79" cy="460.19" r="2.58"/>
<circle cx="487.85" cy="460.27" r="2.58"/>
<circle cx="493.89" cy="459.88" r="2.58"/>
<circle cx="490.81" cy="459.92" r="2.58"/>
</g>
<line x1="478" y1="463.43" x2="503.2" y2="463.43" stroke="#000" stroke-width="1.1"/>
<line x1="478" y1="463.91" x2="503.2" y2="463.91" stroke="#000" stroke-width="1.1"/>
<line x1="490.6" y1="463.43" x2="490.6" y2="463.91" stroke="#000" stroke-width="1.1"/>
<g fill="#fffb00" stroke="#000" stroke-width="0.55">
<circle cx="541.59" cy="459.08" r="2.58"/>
<circle cx="551.12" cy="459.21" r="2.58"/>
<circle cx="560.74" cy="459.45" r="2.58"/>
<circle cx="570.73" cy="459.48" r="2.58"/>
<circle cx="580.06" cy="459.57" r="2.58"/>
<circle cx="546.52" cy="459.42" r="2.58"/>
<circle cx="556.44" cy="459.37" r="2.58"/>
<circle cx="565.53" cy="459.77" r="2.58"/>
<circle cx="575.52" cy="459.34" r="2.58"/>
<circle cx="584.8" cy="459.47" r="2.58"/>
<circle cx="542.98" cy="457.98" r="2.58"/>
<circle cx="550.7" cy="457.97" r="2.58"/>
<circle cx="559.53" cy="457.92" r="2.58"/>
<circle cx="567.47" cy="457.96" r="2.58"/>
<circle cx="575.47" cy="457.94" r="2.58"/>
<circle cx="583.82" cy="457.94" r="2.58"/>
<circle cx="546.62" cy="457.89" r="2.58"/>
<circle cx="554.93" cy="458.2" r="2.58"/>
<circle cx="563.05" cy="457.82" r="2.58"/>
<circle cx="571.56" cy="458.13" r="2.58"/>
<circle cx="579.96" cy="457.84" r="2.58"/>
<circle cx="541.82" cy="456.87" r="2.58"/>
<circle cx="551.08" cy="457.33" r="2.58"/>
<circle cx="560.79" cy="456.63" r="2.58"/>
<circle cx="570.55" cy="456.69" r="2.58"/>
<circle cx="580.22" cy="456.83" r="2.58"/>
<circle cx="546.38" cy="456.6" r="2.58"/>
<circle cx="556.42" cy="456.78" r="2.58"/>
<circle cx="566.02" cy="456.93" r="2.58"/>
<circle cx="575.69" cy="456.8" r="2.58"/>
<circle cx="584.7" cy="456.77" r="2.58"/>
<circle cx="543.15" cy="455.81" r="2.58"/>
<circle cx="550.98" cy="455.38" r="2.58"/>
<circle cx="559.45" cy="456.09" r="2.58"/>
<circle cx="567.57" cy="455.31" r="2.58"/>
<circle cx="575.32" cy="455.38" r="2.58"/>
<circle cx="583.64" cy="455.34" r="2.58"/>
<circle cx="546.64" cy="455.83" r="2.58"/>
<circle cx="555.52" cy="455.47" r="2.58"/>
<circle cx="563.78" cy="455.69" r="2.58"/>
<circle cx="571.84" cy="456.04" r="2.58"/>
<circle cx="580.15" cy="455.34" r="2.58"/>
<circle cx="541.74" cy="454.93" r="2.58"/>
<circle cx="554.54" cy="454.52" r="2.58"/>
<circle cx="566.31" cy="455.13" r="2.58"/>
<circle cx="578.45" cy="454.76" r="2.58"/>
<circle cx="547.91" cy="454.99" r="2.58"/>
<circle cx="560.67" cy="454.59" r="2.58"/>
<circle cx="572.81" cy="455.03" r="2.58"/>
<circle cx="585.17" cy="454.89" r="2.58"/>
<circle cx="551.74" cy="454.07" r="2.58"/>
<circle cx="567.33" cy="453.96" r="2.58"/>
<circle cx="559.62" cy="454.16" r="2.58"/>
<circle cx="575.22" cy="453.91" r="2.58"/>
<circle cx="552.58" cy="453.06" r="2.58"/>
<circle cx="567.24" cy="452.89" r="2.58"/>
<circle cx="559.72" cy="452.7" r="2.58"/>
<circle cx="574.57" cy="452.6" r="2.58"/>
<circle cx="551.87" cy="451.98" r="2.58"/>
<circle cx="567.38" cy="451.46" r="2.58"/>
<circle cx="559.36" cy="452.05" r="2.58"/>
<circle cx="575.01" cy="452.08" r="2.58"/>
<circle cx="553.2" cy="450.54" r="2.58"/>
<circle cx="567.22" cy="450.77" r="2.58"/>
<circle cx="559.77" cy="450.48" r="2.58"/>
<circle cx="573.56" cy="450.5" r="2.58"/>
<circle cx="552.51" cy="449.3" r="2.58"/>
<circle cx="567.21" cy="449.31" r="2.58"/>
<circle cx="559.31" cy="449.74" r="2.58"/>
<circle cx="574.44" cy="449.26" r="2.58"/>
<circle cx="553.62" cy="448.87" r="2.58"/>
<circle cx="563.47" cy="448.37" r="2.58"/>
<circle cx="572.68" cy="449.13" r="2.58"/>
<circle cx="558.43" cy="448.81" r="2.58"/>
<circle cx="568.09" cy="448.98" r="2.58"/>
<circle cx="556.98" cy="448.17" r="2.58"/>
<circle cx="565.59" cy="447.69" r="2.58"/>
<circle cx="560.98" cy="447.61" r="2.58"/>
<circle cx="570.16" cy="447.63" r="2.58"/>
<circle cx="560.37" cy="447.84" r="2.58"/>
<circle cx="565.81" cy="447.78" r="2.58"/>
</g>
<line x1="550.9" y1="454.65" x2="576.1" y2="454.65" stroke="#000" stroke-width="1.1"/>
<line x1="550.9" y1="455.13" x2="576.1" y2="455.13" stroke="#000" stroke-width="1.1"/>
<line x1="563.5" y1="454.65" x2="563.5" y2="455.13" stroke="#000" stroke-width="1.1"/>
<line x1="623.6" y1="423.15" x2="648.8" y2="423.15" stroke="#000" stroke-width="1.6"/>
<line x1="623.6" y1="430.54" x2="648.8" y2="430.54" stroke="#000" stroke-width="1.6"/>
<line x1="636.2" y1="423.15" x2="636.2" y2="430.54" stroke="#000" stroke-width="1.6"/>
<g fill="#ff2600" stroke="#000" stroke-width="0.55">
<circle cx="657.7" cy="442.8" r="2.58"/>
<circle cx="654.8" cy="438.7" r="2.58"/>
<circle cx="654.3" cy="445.1" r="2.58"/>
<circle cx="651.7" cy="438.7" r="2.58"/>
<circle cx="651.5" cy="445.1" r="2.58"/>
<circle cx="648.6" cy="446.6" r="2.58"/>
<circle cx="646" cy="434.2" r="2.58"/>
<circle cx="646" cy="440.1" r="2.58"/>
<circle cx="645.8" cy="447.2" r="2.58"/>
<circle cx="643.4" cy="429.1" r="2.58"/>
<circle cx="643" cy="445" r="2.58"/>
<circle cx="640.3" cy="414.4" r="2.58"/>
<circle cx="640.3" cy="445.6" r="2.58"/>
<circle cx="640.1" cy="426.5" r="2.58"/>
<circle cx="640.1" cy="432.7" r="2.58"/>
<circle cx="637.7" cy="402.8" r="2.58"/>
<circle cx="637.7" cy="440.9" r="2.58"/>
<circle cx="637.7" cy="447.5" r="2.58"/>
<circle cx="637.5" cy="374.6" r="2.58"/>
<circle cx="637.4" cy="409.7" r="2.58"/>
<circle cx="637.4" cy="418.5" r="2.58"/>
<circle cx="637" cy="423.5" r="2.58"/>
<circle cx="636" cy="336.8" r="2.58"/>
<circle cx="636" cy="356.4" r="2.58"/>
<circle cx="636" cy="388.5" r="2.58"/>
<circle cx="635.5" cy="431" r="2.58"/>
<circle cx="634.6" cy="440.1" r="2.58"/>
<circle cx="634.6" cy="446.6" r="2.58"/>
<circle cx="634.4" cy="400.4" r="2.58"/>
<circle cx="634.4" cy="413.7" r="2.58"/>
<circle cx="634.2" cy="378" r="2.58"/>
<circle cx="633.5" cy="426.5" r="2.58"/>
<circle cx="632" cy="422.7" r="2.58"/>
<circle cx="631.6" cy="415.8" r="2.58"/>
<circle cx="631.6" cy="447" r="2.58"/>
<circle cx="630.1" cy="429.8" r="2.58"/>
<circle cx="628.7" cy="437.6" r="2.58"/>
<circle cx="628.7" cy="443" r="2.58"/>
<circle cx="626.1" cy="435.2" r="2.58"/>
<circle cx="626.1" cy="447.2" r="2.58"/>
<circle cx="623" cy="435.8" r="2.58"/>
<circle cx="623" cy="442.8" r="2.58"/>
<circle cx="620.2" cy="445.1" r="2.58"/>
<circle cx="617.3" cy="442.8" r="2.58"/>
<circle cx="614.5" cy="446.8" r="2.58"/>
</g>
<path d="M490.6 313.2V292.2H636.1V313.2" fill="none" stroke="#000" stroke-width="1.5"/>
<path d="M490.6 452V320.4H560.8V439.6" fill="none" stroke="#000" stroke-width="1.5"/>
<path d="M566.0 439.6V320.4H636.1V328.7" fill="none" stroke="#000" stroke-width="1.5"/>
<text x="563.5" y="293.1" font-size="21.2" text-anchor="middle" font-weight="bold">****</text>
<text x="525.8" y="321.4" font-size="21.2" text-anchor="middle" font-weight="bold">****</text>
<text x="601.1" y="321.4" font-size="21.2" text-anchor="middle" font-weight="bold">****</text>
</svg>
</body></html>
